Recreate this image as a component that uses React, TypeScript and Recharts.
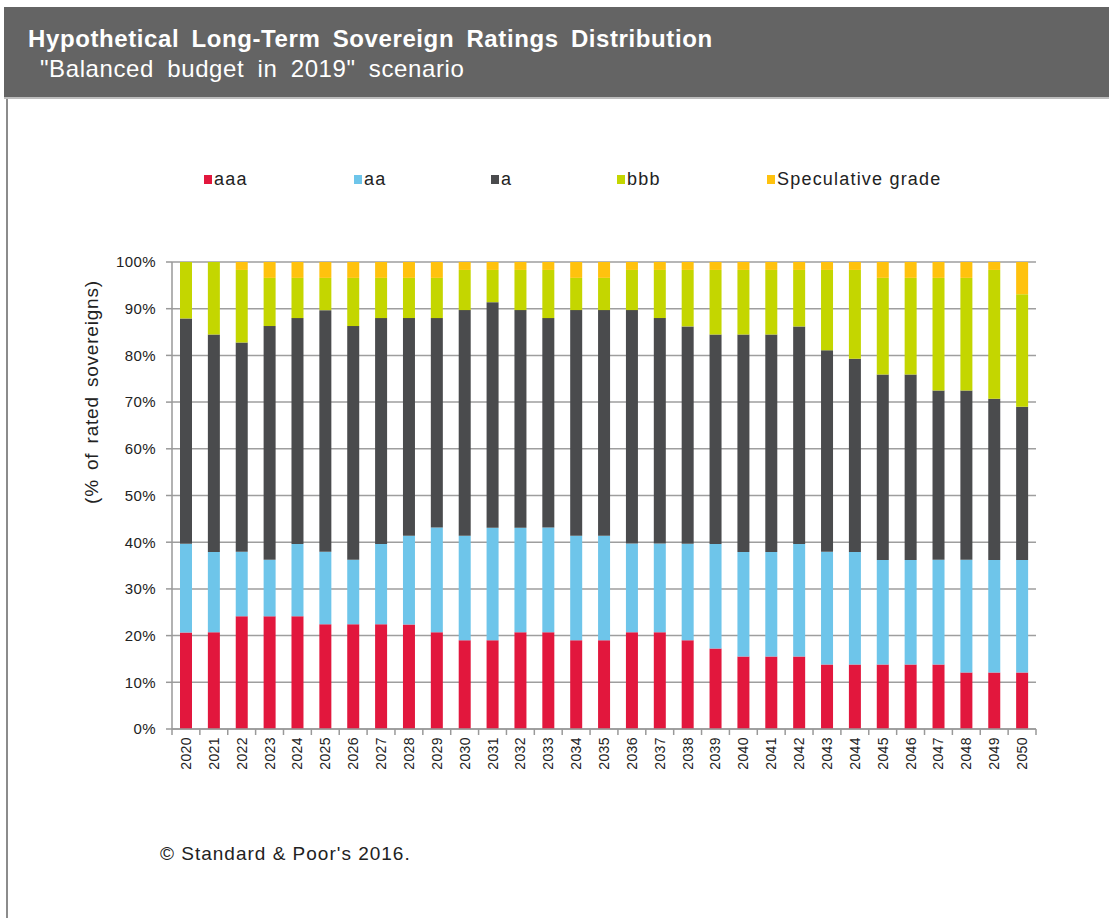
import { BarChart, Bar, XAxis, YAxis, CartesianGrid, Legend } from "recharts"

const years = [
  "2020", "2021", "2022", "2023", "2024", "2025", "2026", "2027", "2028", "2029", "2030",
  "2031", "2032", "2033", "2034", "2035", "2036", "2037", "2038", "2039", "2040",
  "2041", "2042", "2043", "2044", "2045", "2046", "2047", "2048", "2049", "2050",
]

// share of rated sovereigns, %
const aaa = [20.7, 20.7, 24.1, 24.1, 24.1, 22.4, 22.4, 22.4, 22.4, 20.7, 19.0, 19.0, 20.7, 20.7, 19.0, 19.0, 20.7, 20.7, 19.0, 17.2, 15.5, 15.5, 15.5, 13.8, 13.8, 13.8, 13.8, 13.8, 12.1, 12.1, 12.1]
const aa = [19.0, 17.2, 13.8, 12.1, 15.5, 15.5, 13.8, 17.2, 19.0, 22.4, 22.4, 24.1, 22.4, 22.4, 22.4, 22.4, 19.0, 19.0, 20.7, 22.4, 22.4, 22.4, 24.1, 24.1, 24.1, 22.4, 22.4, 22.4, 24.1, 24.1, 24.1]
const a = [48.3, 46.6, 44.8, 50.0, 48.3, 51.7, 50.0, 48.3, 46.6, 44.8, 48.3, 48.3, 46.6, 44.8, 48.3, 48.3, 50.0, 48.3, 46.6, 44.8, 46.6, 46.6, 46.6, 43.1, 41.4, 39.7, 39.7, 36.2, 36.2, 34.5, 32.8]
const bbb = [12.1, 15.5, 15.5, 10.3, 8.6, 6.9, 10.3, 8.6, 8.6, 8.6, 8.6, 6.9, 8.6, 10.3, 6.9, 6.9, 8.6, 10.3, 12.1, 13.8, 13.8, 13.8, 12.1, 17.2, 19.0, 20.7, 20.7, 24.1, 24.1, 27.6, 24.1]
const spec = [0, 0, 1.7, 3.4, 3.4, 3.4, 3.4, 3.4, 3.4, 3.4, 1.7, 1.7, 1.7, 1.7, 3.4, 3.4, 1.7, 1.7, 1.7, 1.7, 1.7, 1.7, 1.7, 1.7, 1.7, 3.4, 3.4, 3.4, 3.4, 1.7, 6.9]

const seriesNames = ["aaa", "aa", "a", "bbb", "Speculative grade"]
const yTicks = [0, 0.1, 0.2, 0.3, 0.4, 0.5, 0.6, 0.7, 0.8, 0.9, 1]

const data = years.map((year, i) => ({
  year,
  aaa: aaa[i],
  aa: aa[i],
  a: a[i],
  bbb: bbb[i],
  spec: spec[i],
}))

const FONT = "'Liberation Sans', Arial, sans-serif"
const PLOT_LEFT = 172
const PLOT_RIGHT = 1036
const BAND = (PLOT_RIGHT - PLOT_LEFT) / years.length

const legendX = [204, 354, 491, 617, 767]

function YearTick(props: any) {
  const { x, y, payload, index } = props
  const tx = x + 5
  const ty = y + 8
  return (
    <g>
      <line x1={x - BAND / 2} x2={x - BAND / 2} y1={y} y2={y + 6} stroke="#999" strokeWidth={1.5} />
      {index === years.length - 1 && (
        <line x1={x + BAND / 2} x2={x + BAND / 2} y1={y} y2={y + 6} stroke="#999" strokeWidth={1.5} />
      )}
      <text
        x={tx}
        y={ty}
        transform={`rotate(-90, ${tx}, ${ty})`}
        textAnchor="end"
        fontSize={14}
        fontFamily={FONT}
        fill="#222"
        letterSpacing={0.4}
      >
        {payload.value}
      </text>
    </g>
  )
}

function LegendBox(props: any) {
  const items = [...(props.payload || [])].sort(
    (p: any, q: any) => seriesNames.indexOf(p.value) - seriesNames.indexOf(q.value)
  )
  return (
    <div style={{ position: "relative", height: 0, fontFamily: FONT, fontSize: 18, letterSpacing: 1.2, color: "#222" }}>
      {items.map((item: any, i: number) => (
        <div
          key={item.value}
          style={{ position: "absolute", left: legendX[i], top: -2, display: "flex", alignItems: "center", whiteSpace: "nowrap" }}
        >
          <span style={{ display: "inline-block", width: 8, height: 9, background: item.color, marginRight: 2 }} />
          <span>{item.value}</span>
        </div>
      ))}
    </div>
  )
}

export default function App() {
  return (
    <div style={{ position: "absolute", left: 0, top: 0, width: 1109, height: 918, background: "#fff", overflow: "hidden" }}>
      <div
        style={{
          position: "absolute",
          left: 4,
          top: 7,
          width: 1105,
          height: 90,
          background: "#646464",
          borderBottom: "2px solid #bdbdbd",
          color: "#fff",
          fontFamily: FONT,
        }}
      >
        <div style={{ position: "absolute", left: 24, top: 18, fontSize: 24, fontWeight: "bold", letterSpacing: 0.6, wordSpacing: 5, whiteSpace: "nowrap" }}>
          Hypothetical Long-Term Sovereign Ratings Distribution
        </div>
        <div style={{ position: "absolute", left: 36, top: 48, fontSize: 24, letterSpacing: 0.6, wordSpacing: 6, whiteSpace: "nowrap" }}>
          "Balanced budget in 2019" scenario
        </div>
      </div>
      <div style={{ position: "absolute", left: 6, top: 99, width: 2, height: 819, background: "#8c8c8c" }} />

      <div style={{ position: "absolute", left: 0, top: 0 }}>
        <BarChart
          width={1109}
          height={918}
          data={data}
          stackOffset="expand"
          barSize={12}
          margin={{ top: 262, right: 1109 - PLOT_RIGHT, bottom: 129, left: PLOT_LEFT - 60 }}
        >
          <CartesianGrid vertical={false} stroke="#9e9e9e" strokeWidth={1.5} />
          <XAxis
            dataKey="year"
            height={60}
            interval={0}
            tickSize={0}
            tickMargin={0}
            tick={<YearTick />}
            axisLine={{ stroke: "#999", strokeWidth: 1.5 }}
          />
          <YAxis
            width={60}
            domain={[0, 1]}
            ticks={yTicks}
            tickFormatter={(v: number) => `${Math.round(v * 100)}%`}
            tick={{ fontSize: 15, fontFamily: FONT, fill: "#222", letterSpacing: 0.4 }}
            tickLine={{ stroke: "#999", strokeWidth: 1.5 }}
            tickSize={6}
            tickMargin={10}
            axisLine={{ stroke: "#999", strokeWidth: 1.5 }}
            label={{
              content: () => (
                <text
                  x={98}
                  y={392}
                  transform="rotate(-90, 98, 392)"
                  textAnchor="middle"
                  fontSize={19}
                  fontFamily={FONT}
                  fill="#222"
                  letterSpacing={0.8}
                  wordSpacing={3}
                >
                  (% of rated sovereigns)
                </text>
              ),
            }}
          />
          <Legend
            verticalAlign="top"
            content={<LegendBox />}
            wrapperStyle={{ top: 171, left: 0, width: 1109, height: 0 }}
          />
          <Bar dataKey="aaa" name="aaa" stackId="r" fill="#E2173D" isAnimationActive={false} />
          <Bar dataKey="aa" name="aa" stackId="r" fill="#6EC5EA" isAnimationActive={false} />
          <Bar dataKey="a" name="a" stackId="r" fill="#4A4B4D" isAnimationActive={false} />
          <Bar dataKey="bbb" name="bbb" stackId="r" fill="#C4D600" isAnimationActive={false} />
          <Bar dataKey="spec" name="Speculative grade" stackId="r" fill="#FFC20E" isAnimationActive={false} />
        </BarChart>
      </div>

      <div style={{ position: "absolute", left: 160, top: 843, fontFamily: FONT, fontSize: 19, letterSpacing: 1, color: "#222" }}>
        © Standard &amp; Poor's 2016.
      </div>
    </div>
  )
}
